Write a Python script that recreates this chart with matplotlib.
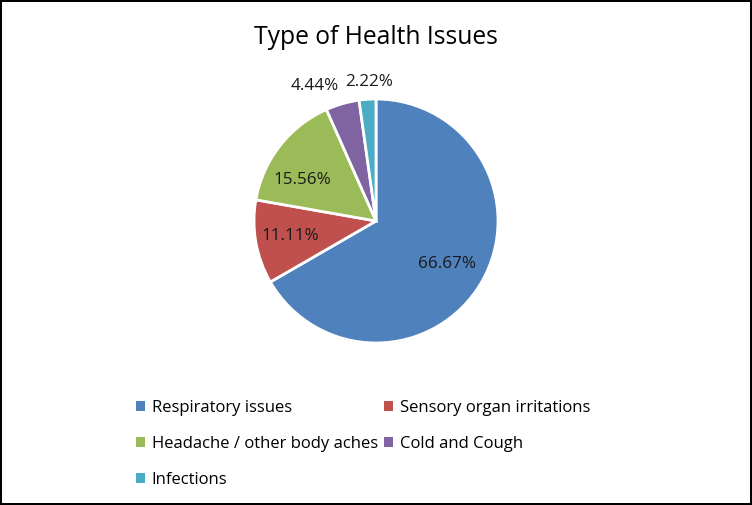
import matplotlib
matplotlib.use("Agg")
import matplotlib.pyplot as plt
from matplotlib.patches import Rectangle

categories = ["Respiratory issues", "Sensory organ irritations",
              "Headache / other body aches", "Cold and Cough", "Infections"]
values = [66.67, 11.11, 15.56, 4.44, 2.22]
labels = ["66.67%", "11.11%", "15.56%", "4.44%", "2.22%"]
colors = ["#4F81BD", "#C0504D", "#9BBB59", "#8064A2", "#4BACC6"]
# label positions in units of pie radius (Excel best-fit placement)
label_xy = [(0.58, -0.35), (-0.70, -0.12), (-0.60, 0.34), (-0.50, 1.11), (-0.06, 1.14)]

plt.rcParams['font.family'] = ['Open Sans', 'DejaVu Sans']

fig = plt.figure(figsize=(7.52, 5.05), dpi=100)
fig.patch.set_edgecolor("black")
fig.patch.set_linewidth(1.5)

W, H = 752, 505
cx, cy, r = 376, 221, 122
ax = fig.add_axes([(cx - r) / W, (H - cy - r) / H, 2 * r / W, 2 * r / H])
wedges, _ = ax.pie(values, colors=colors, startangle=90, counterclock=False,
                   wedgeprops=dict(edgecolor="white", linewidth=2))
ax.set_xlim(-1, 1)
ax.set_ylim(-1, 1)
ax.set_aspect("auto")
ax.axis("off")

for (x, y), t in zip(label_xy, labels):
    ax.text(x, y, t, ha="center", va="center", fontsize=12.3, color="#1a1a1a", clip_on=False)

fig.text(cx / W, 1 - 37 / H, "Type of Health Issues", ha="center", va="center",
         fontsize=17.7, color="black")

order = [0, 2, 4, 1, 3]
handles = [Rectangle((0, 0), 1, 1, facecolor=colors[i]) for i in order]
leg = fig.legend(handles, [categories[i] for i in order], ncol=2,
                 loc="upper left", bbox_to_anchor=(136 / W, 1 - 400 / H),
                 frameon=False, fontsize=12, handlelength=0.55, handleheight=0.55,
                 handletextpad=0.4, columnspacing=0.35, labelspacing=1.2,
                 borderpad=0, borderaxespad=0)

fig.savefig("out.png", dpi=100, edgecolor=fig.get_edgecolor())
